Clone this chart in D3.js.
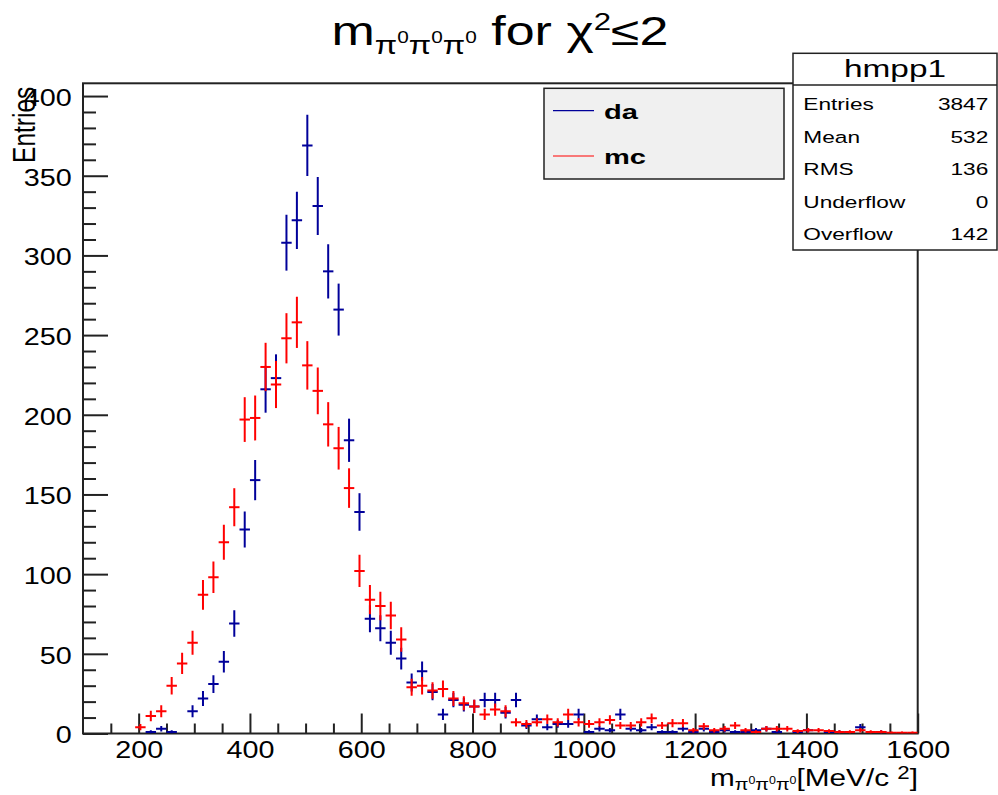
<!DOCTYPE html>
<html><head><meta charset="utf-8">
<script src="https://cdn.jsdelivr.net/npm/d3@7"></script>
<style>
body{margin:0;background:#fff}
svg{display:block}
text{font-family:"Liberation Sans",Arial,Helvetica,sans-serif;fill:#000}
</style>
</head><body>
<svg id="c" width="998" height="795"></svg>
<script>
// ---------- data ----------
const binLow = 100, binHigh = 1600, nBins = 80;
const da = [0,0,0,0,0,0,1,3,1,0,
  14,22,31,45,69,128,159,216,223,308,
  322,369,331,290,266,184,139,72,66,57,
  47,32,39,26,12,21,18,17,21,21,
  13,21,5,9,4,6,6,12,1,3,
  2,12,3,2,4,1,1,3,1,3,
  1,2,1,1,2,3,1,0,1,2,
  0,1,1,0,4,0,1,0,0,0];
const mc = [0,0,0,0,0,4,11,14,30,44,
  57,87,98,120,142,197,198,230,219,248,
  258,231,215,194,179,154,102,84,80,74,
  59,29,30,27,28,22,19,17,12,15,
  14,7,6,7,9,7,12,7,6,7,
  8.5,5,5,7,9.5,5,6.5,6.5,2,4.5,
  2,3,5,2,1,3,3,3,1.5,2,
  2,1.5,1,1,2,1,1,0.5,0.5,0.5];
const seriesNames = ["da","mc"];
const xMajorTicks = [200,400,600,800,1000,1200,1400,1600];
const xMinorTicks = [150,250,300,350,450,500,550,650,700,750,850,900,950,1050,1100,1150,1250,1300,1350,1450,1500,1550];
const yMajorTicks = [0,50,100,150,200,250,300,350,400];
const yMinorTicks = [10,20,30,40,60,70,80,90,110,120,130,140,160,170,180,190,210,220,230,240,260,270,280,290,310,320,330,340,360,370,380,390];
const statLabels = ["Entries","Mean","RMS","Underflow","Overflow"];
const statValues = ["3847","532","136","0","142"];
const yMax = 408;

// ---------- layout ----------
const W = 998, H = 795;
const L = 83, R = 917.7, T = 83.3, B = 733.5;
const SX = 1.25;
const colors = {da:"#00009a", mc:"#ff0000"};

const svg = d3.select("#c");
svg.append("rect").attr("width",W).attr("height",H).attr("fill","#fff");

const x = d3.scaleLinear().domain([binLow,binHigh]).range([L,R]);
const y = d3.scaleLinear().domain([0,yMax]).range([B,T]);
const bw = (binHigh-binLow)/nBins;
const centers = d3.range(nBins).map(i => binLow + (i+0.5)*bw);

// ---------- axes ----------
const gxMinor = svg.append("g").attr("transform",`translate(0,${B})`)
  .call(d3.axisBottom(x).tickValues(xMinorTicks).tickSize(-10).tickFormat(""));
const gx = svg.append("g").attr("transform",`translate(0,${B})`)
  .call(d3.axisBottom(x).tickValues(xMajorTicks).tickSize(-20).tickPadding(8).tickFormat(d3.format("d")));
const gyMinor = svg.append("g").attr("transform",`translate(${L},0)`)
  .call(d3.axisLeft(y).tickValues(yMinorTicks).tickSize(-13).tickFormat(""));
const gy = svg.append("g").attr("transform",`translate(${L},0)`)
  .call(d3.axisLeft(y).tickValues(yMajorTicks).tickSize(-25).tickPadding(9).tickFormat(d3.format("d")));
[gxMinor,gx,gyMinor,gy].forEach(g=>{
  g.select(".domain").remove();
  g.selectAll(".tick line").attr("stroke","#222").attr("stroke-width",2);
  g.attr("font-size",23).attr("font-family",null);
  g.selectAll("text").attr("fill","#000").attr("transform",`scale(${SX},1)`);
});
gy.selectAll("text").attr("dy","0.41em");

// frame
svg.append("rect").attr("x",L).attr("y",T).attr("width",R-L).attr("height",B-T)
  .attr("fill","none").attr("stroke","#222").attr("stroke-width",2);

// ---------- data (error bars) ----------
svg.append("clipPath").attr("id","pc").append("rect")
  .attr("x",L).attr("y",T).attr("width",R-L).attr("height",B-T);
const plot = svg.append("g").attr("clip-path","url(#pc)");
[["da",da],["mc",mc]].forEach(([name,vals])=>{
  const pts = vals.map((v,i)=>({c:centers[i],v})).filter(d=>d.v>0);
  const g = plot.append("g").attr("stroke",colors[name]).attr("stroke-width",2);
  g.selectAll("line.v").data(pts).join("line").attr("class","v")
    .attr("x1",d=>x(d.c)).attr("x2",d=>x(d.c))
    .attr("y1",d=>y(Math.max(0,d.v-Math.sqrt(d.v)))).attr("y2",d=>y(d.v+Math.sqrt(d.v)));
  g.selectAll("line.h").data(pts).join("line").attr("class","h")
    .attr("x1",d=>x(d.c-bw/2)).attr("x2",d=>x(d.c+bw/2))
    .attr("y1",d=>y(d.v)).attr("y2",d=>y(d.v));
});

// ---------- helper for rich text ----------
function rich(x0,y0,anchor,sx,parts,base){
  const t = svg.append("text").attr("text-anchor",anchor)
    .attr("transform",`translate(${x0},${y0}) scale(${sx},1)`)
    .attr("font-size",base);
  parts.forEach(p=>{
    t.append("tspan").attr("font-size",p.s||base).attr("dy",p.dy||0)
      .attr("font-weight",p.w||null).text(p.t);
  });
  return t;
}

// title
rich(500,45,"middle",1.3,[
  {t:"m"},
  {t:"π",s:25,dy:9},{t:"0",s:16,dy:-11},
  {t:"π",s:25,dy:11},{t:"0",s:16,dy:-11},
  {t:"π",s:25,dy:11},{t:"0",s:16,dy:-11},
  {t:" for χ",dy:2},
  {t:"2",s:24,dy:-15},
  {t:"≤2",dy:15}
],40);

// x axis title
rich(918,786,"end",1.24,[
  {t:"m"},
  {t:"π",s:16,dy:4},{t:"0",s:10,dy:-6},
  {t:"π",s:16,dy:6},{t:"0",s:10,dy:-6},
  {t:"π",s:16,dy:6},{t:"0",s:10,dy:-6},
  {t:"[MeV/c ",dy:2},
  {t:"2",s:18,dy:-7},
  {t:"]",dy:7}
],24);

// y axis title
svg.append("text").attr("text-anchor","end").attr("font-size",24.5)
  .attr("transform",`translate(35,86.7) scale(${SX},1) rotate(-90)`).text("Entries");

// ---------- legend ----------
const lg = svg.append("g");
lg.append("rect").attr("x",544).attr("y",88.3).attr("width",240).attr("height",90.7)
  .attr("fill","#f0f0f0").attr("stroke","#222").attr("stroke-width",1.5);
seriesNames.forEach((n,i)=>{
  const yy = 110.7 + i*45.3;
  lg.append("line").attr("x1",553).attr("x2",594).attr("y1",yy).attr("y2",yy)
    .attr("stroke",colors[n]).attr("stroke-width",1.2);
  lg.append("text").attr("font-weight","bold").attr("font-size",20.5)
    .attr("transform",`translate(604,${yy+8}) scale(1.42,1)`).text(n);
});

// ---------- stats box ----------
const sb = svg.append("g");
sb.append("rect").attr("x",793).attr("y",53.3).attr("width",204).attr("height",196.7)
  .attr("fill","#fff").attr("stroke","#222").attr("stroke-width",1.5);
sb.append("line").attr("x1",793).attr("x2",997).attr("y1",85).attr("y2",85)
  .attr("stroke","#222").attr("stroke-width",1.5);
sb.append("text").attr("text-anchor","middle").attr("font-size",23.5)
  .attr("transform",`translate(895,76.7) scale(1.42,1)`).text("hmpp1");
statLabels.forEach((lab,i)=>{
  const yy = 110 + i*32.5;
  sb.append("text").attr("font-size",17.3)
    .attr("transform",`translate(803.3,${yy}) scale(1.31,1)`).text(lab);
  sb.append("text").attr("font-size",17.3).attr("text-anchor","end")
    .attr("transform",`translate(988.3,${yy}) scale(1.31,1)`).text(statValues[i]);
});
</script>
</body></html>
